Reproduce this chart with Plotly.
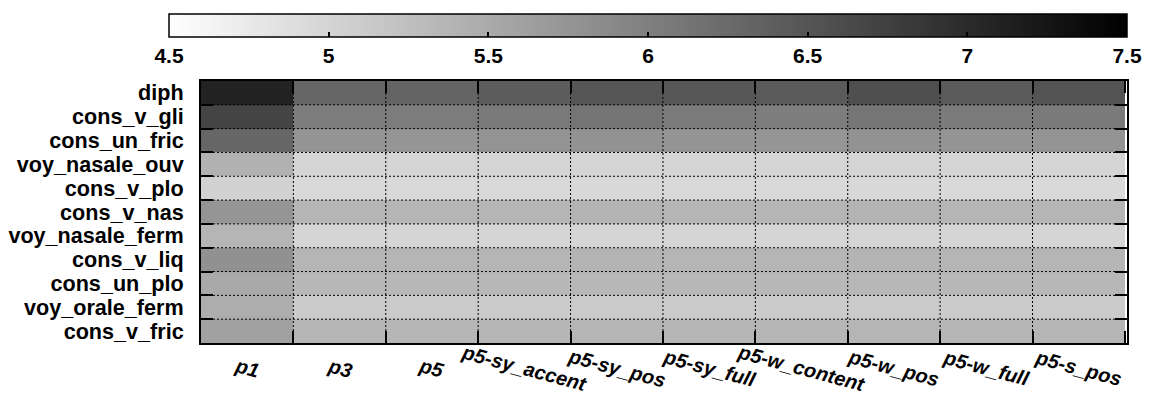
import plotly.graph_objects as go

columns = ["p1", "p3", "p5", "p5-sy_accent", "p5-sy_pos", "p5-sy_full",
           "p5-w_content", "p5-w_pos", "p5-w_full", "p5-s_pos"]
rows = ["diph", "cons_v_gli", "cons_un_fric", "voy_nasale_ouv", "cons_v_plo",
        "cons_v_nas", "voy_nasale_ferm", "cons_v_liq", "cons_un_plo",
        "voy_orale_ferm", "cons_v_fric"]

diph = [7.10, 6.30, 6.32, 6.42, 6.50, 6.48, 6.44, 6.57, 6.44, 6.51]
cons_v_gli = [6.70, 6.03, 6.04, 6.07, 6.14, 6.05, 6.03, 6.11, 6.05, 6.07]
cons_un_fric = [6.30, 5.76, 5.75, 5.77, 5.78, 5.76, 5.75, 5.78, 5.76, 5.76]
voy_nasale_ouv = [5.42, 4.99, 4.99, 5.00, 5.00, 4.99, 4.99, 5.00, 4.99, 4.99]
cons_v_plo = [5.03, 4.95, 4.95, 4.95, 4.96, 4.95, 4.95, 4.96, 4.95, 4.95]
cons_v_nas = [5.75, 5.37, 5.37, 5.37, 5.38, 5.37, 5.37, 5.38, 5.37, 5.37]
voy_nasale_ferm = [5.37, 4.99, 4.99, 4.99, 5.00, 4.99, 4.99, 5.00, 4.99, 4.99]
cons_v_liq = [5.79, 5.37, 5.37, 5.37, 5.38, 5.37, 5.37, 5.38, 5.37, 5.37]
cons_un_plo = [5.51, 5.34, 5.34, 5.34, 5.35, 5.34, 5.34, 5.35, 5.34, 5.34]
voy_orale_ferm = [5.46, 5.11, 5.11, 5.11, 5.12, 5.11, 5.11, 5.12, 5.11, 5.11]
cons_v_fric = [5.61, 5.36, 5.36, 5.36, 5.37, 5.36, 5.36, 5.37, 5.36, 5.36]

z = [diph, cons_v_gli, cons_un_fric, voy_nasale_ouv, cons_v_plo, cons_v_nas,
     voy_nasale_ferm, cons_v_liq, cons_un_plo, voy_orale_ferm, cons_v_fric]

cbar_ticks = [4.5, 5, 5.5, 6, 6.5, 7, 7.5]
cbar_text = ["4.5", "5", "5.5", "6", "6.5", "7", "7.5"]

FONT = "Liberation Sans"

fig = go.Figure()
fig.add_trace(go.Heatmap(
    z=z, x=columns, y=rows,
    zmin=4.5, zmax=7.5,
    colorscale=[[0, "#ffffff"], [1, "#000000"]],
    showscale=True,
    colorbar=dict(
        orientation="h",
        lenmode="pixels", len=958,
        thicknessmode="pixels", thickness=23,
        x=0.4827, xanchor="center",
        y=1.256, yanchor="top",
        xpad=0, ypad=0,
        outlinecolor="black", outlinewidth=1.5,
        tickvals=cbar_ticks, ticktext=cbar_text,
        ticks="inside", ticklen=5, tickcolor="black", tickwidth=1.5,
        tickfont=dict(family=FONT, size=21, color="black", weight="bold"),
    ),
    hoverinfo="skip",
))

# dotted grid lines above the cells, at category boundaries
n_c = len(columns)
n_r = len(rows)
for i in range(1, n_c):
    fig.add_shape(type="line", xref="x", yref="paper", x0=i - 0.5, x1=i - 0.5,
                  y0=0, y1=1, layer="above",
                  line=dict(color="black", width=1, dash="2px,2px"))
for j in range(1, n_r):
    fig.add_shape(type="line", xref="paper", yref="y", x0=0, x1=1,
                  y0=j - 0.5, y1=j - 0.5, layer="above",
                  line=dict(color="black", width=1, dash="2px,2px"))

# rotated, centred column labels
for c in columns:
    fig.add_annotation(x=c, xref="x", y=-0.095, yref="paper",
                       text=c, showarrow=False, textangle=15,
                       xanchor="center", yanchor="middle",
                       font=dict(family=FONT, size=20, color="black",
                                 weight="bold", style="italic"))

fig.update_xaxes(
    type="category", showticklabels=False,
    tickson="boundaries", ticks="inside", ticklen=12, tickwidth=2,
    tickcolor="black", showline=True, linecolor="black", linewidth=2,
    mirror="ticks", showgrid=False, layer="above traces", zeroline=False,
)
fig.update_yaxes(
    type="category", autorange="reversed",
    tickmode="array", tickvals=rows, ticktext=rows,
    tickson="boundaries", ticks="inside", ticklen=12, tickwidth=2,
    tickcolor="black", showline=True, linecolor="black", linewidth=2,
    mirror="ticks", showgrid=False, layer="above traces", zeroline=False,
    ticklabelstandoff=11,
    tickfont=dict(family=FONT, size=21.6, color="black", weight="bold"),
)

fig.update_layout(
    width=1152, height=395,
    margin=dict(l=201, r=25, t=81, b=52, autoexpand=False),
    paper_bgcolor="white", plot_bgcolor="white",
    showlegend=False,
)

fig.write_html("out.html", config={"displayModeBar": False},
               post_script="document.body.style.margin='0';")
